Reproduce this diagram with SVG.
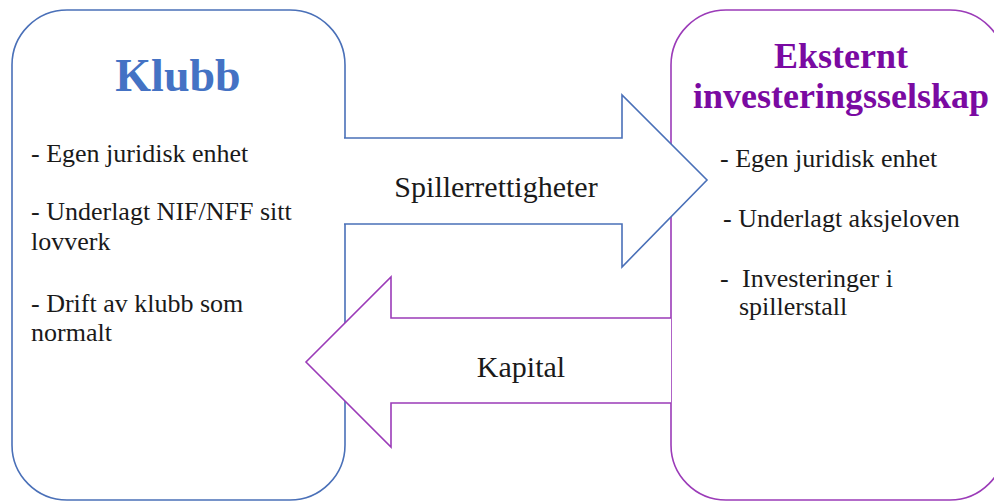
<svg xmlns="http://www.w3.org/2000/svg" width="994" height="502" viewBox="0 0 994 502">
<style>
.t{font-family:"Liberation Serif","Times New Roman",serif;fill:#1a1a1a;font-size:26px}
.lbl{font-family:"Liberation Serif","Times New Roman",serif;fill:#1a1a1a;font-size:30px}
.blue{stroke:#4a70b8;stroke-width:1.6;fill:none}
.purp{stroke:#9b3bb8;stroke-width:1.6;fill:none}
</style>
<rect width="994" height="502" fill="#ffffff"/>
<g id="klubb">
<rect x="12" y="10" width="333" height="490" rx="55" ry="55" fill="#ffffff" class="blue"/>
<text x="178" y="91" text-anchor="middle" style="font-family:'Liberation Serif','Times New Roman',serif;font-weight:bold;font-size:46px;fill:#4472c4">Klubb</text>
<text class="t" x="31" y="162">- Egen juridisk enhet</text>
<text class="t" x="31" y="220">- Underlagt NIF/NFF sitt</text>
<text class="t" x="31" y="250">lovverk</text>
<text class="t" x="31" y="312">- Drift av klubb som</text>
<text class="t" x="31" y="341">normalt</text>
</g>
<g id="selskap">
<rect x="671" y="10" width="334" height="490" rx="55" ry="55" fill="#ffffff" class="purp"/>
<text text-anchor="middle" style="font-family:'Liberation Serif','Times New Roman',serif;font-weight:bold;font-size:36px;fill:#7a0aa2"><tspan x="841" y="68">Eksternt</tspan><tspan x="841" y="108">investeringsselskap</tspan></text>
<text class="t" x="720" y="167">- Egen juridisk enhet</text>
<text class="t" x="723" y="227">- Underlagt aksjeloven</text>
<text class="t" x="720" y="287">-  <tspan x="742">Investeringer i</tspan></text>
<text class="t" x="739" y="315">spillerstall</text>
</g>
<g id="connectors">
<g id="arrow-spillerrettigheter">
<polygon points="344,138 622,138 622,95 707,180 622,267 622,224 344,224" fill="#ffffff"/>
<polyline points="344,138 622,138 622,95 707,180 622,267 622,224 344,224" class="blue"/>
<text class="lbl" x="496" y="197" text-anchor="middle">Spillerrettigheter</text>
</g>
<g id="arrow-kapital">
<polygon points="671,318 391,318 391,277 306,362 391,447 391,403 671,403" fill="#ffffff"/>
<polyline points="671,318 391,318 391,277 306,362 391,447 391,403 671,403" class="purp"/>
<text class="lbl" x="521" y="377" text-anchor="middle">Kapital</text>
</g>
</g>
</svg>
